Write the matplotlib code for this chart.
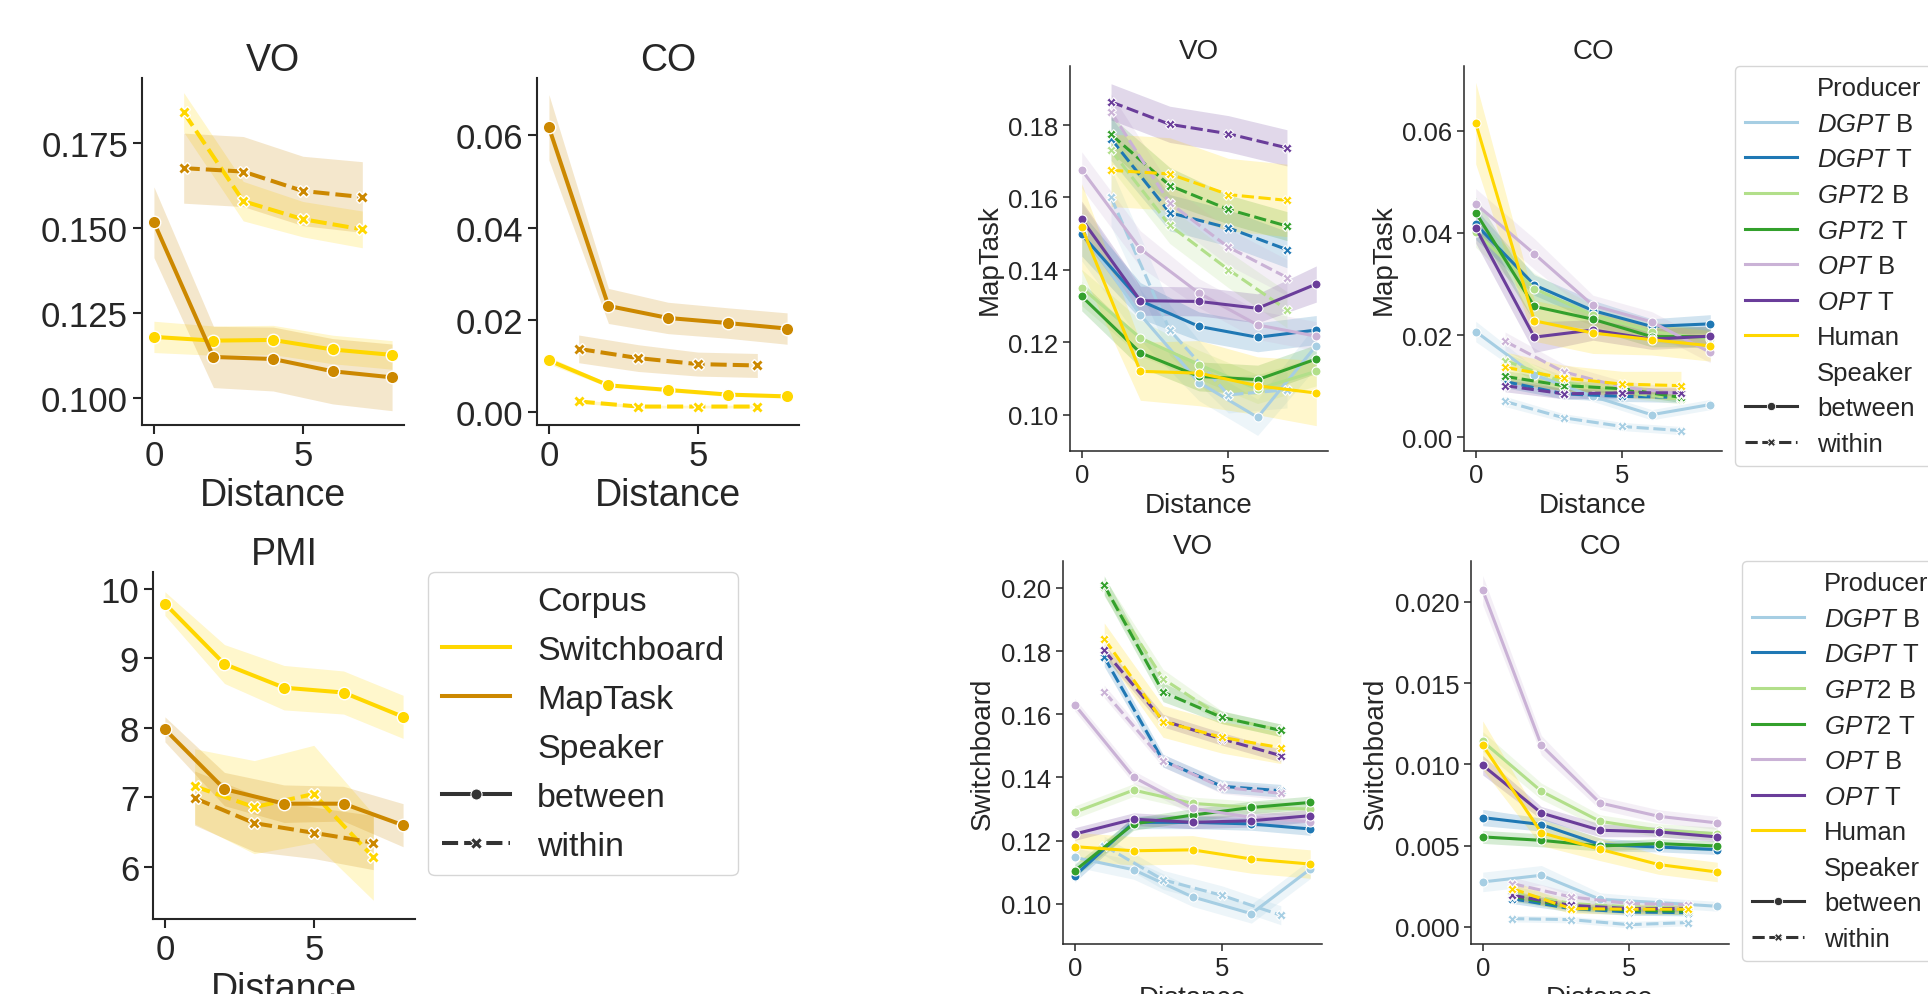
import matplotlib
matplotlib.use("Agg")
import matplotlib.pyplot as plt
from matplotlib.lines import Line2D

plt.rcParams['font.family'] = ['Liberation Sans', 'DejaVu Sans']
plt.rcParams['mathtext.fontset'] = 'custom'
plt.rcParams['mathtext.rm'] = 'Liberation Sans'
plt.rcParams['mathtext.it'] = 'Liberation Sans:italic'
plt.rcParams['text.color'] = '.15'
plt.rcParams['axes.labelcolor'] = '.15'
plt.rcParams['xtick.color'] = '.15'
plt.rcParams['ytick.color'] = '.15'

W, H = 1928, 995

# ---------------- data ----------------
between_x = [0, 2, 4, 6, 8]
within_x = [1, 3, 5, 7]

corpora = ["Switchboard", "MapTask"]
corpus_colors = {"Switchboard": "#ffd700", "MapTask": "#cc8800"}

# left: corpus comparison (mean, ci half width)
vo_between = {"Switchboard": [0.1179, 0.1168, 0.1170, 0.1142, 0.1126],
              "MapTask": [0.1516, 0.1120, 0.1114, 0.1078, 0.1060]}
vo_between_ci = {"Switchboard": [0.0046, 0.0043, 0.0043, 0.0042, 0.0042],
                 "MapTask": [0.0104, 0.0090, 0.0094, 0.0096, 0.0098]}
vo_within = {"Switchboard": [0.1839, 0.1578, 0.1525, 0.1495],
             "MapTask": [0.1675, 0.1665, 0.1608, 0.1590]}
vo_within_ci = {"Switchboard": [0.0058, 0.0058, 0.0052, 0.0054],
                "MapTask": [0.0103, 0.0103, 0.0102, 0.0104]}

co_between = {"Switchboard": [0.0112, 0.0058, 0.0048, 0.0038, 0.0034],
              "MapTask": [0.0617, 0.0230, 0.0204, 0.0193, 0.0181]}
co_between_ci = {"Switchboard": [0.0008, 0.0004, 0.0004, 0.0004, 0.0004],
                 "MapTask": [0.0071, 0.0038, 0.0034, 0.0033, 0.0034]}
co_within = {"Switchboard": [0.0023, 0.0012, 0.0012, 0.0012],
             "MapTask": [0.0137, 0.0117, 0.0104, 0.0101]}
co_within_ci = {"Switchboard": [0.0004, 0.0003, 0.0003, 0.0003],
                "MapTask": [0.0030, 0.0029, 0.0026, 0.0026]}

pmi_between = {"Switchboard": [9.79, 8.92, 8.58, 8.51, 8.16],
               "MapTask": [7.98, 7.12, 6.91, 6.91, 6.60]}
pmi_between_ci = {"Switchboard": [0.17, 0.28, 0.32, 0.31, 0.31],
                  "MapTask": [0.18, 0.24, 0.27, 0.25, 0.31]}
pmi_within = {"Switchboard": [7.16, 6.86, 7.05, 6.14],
              "MapTask": [6.99, 6.63, 6.49, 6.35]}
pmi_within_ci = {"Switchboard": [0.54, 0.67, 0.70, 0.62],
                 "MapTask": [0.39, 0.41, 0.37, 0.39]}

# right: producers
producers = ["DGPT B", "DGPT T", "GPT2 B", "GPT2 T", "OPT B", "OPT T", "Human"]
producer_labels = [r"$\it{DGPT}$ B", r"$\it{DGPT}$ T", r"$\it{GPT}$2 B", r"$\it{GPT}$2 T",
                   r"$\it{OPT}$ B", r"$\it{OPT}$ T", "Human"]
producer_colors = ["#a6cee3", "#1f78b4", "#b2df8a", "#33a02c", "#cab2d6", "#6a3d9a", "#ffd700"]

mt_vo_between = {"DGPT B": [0.1505, 0.1276, 0.1089, 0.0993, 0.1191],
                 "DGPT T": [0.1498, 0.1315, 0.1244, 0.1214, 0.1234],
                 "GPT2 B": [0.1351, 0.1212, 0.1138, 0.1071, 0.1120],
                 "GPT2 T": [0.1327, 0.1171, 0.1106, 0.1097, 0.1154],
                 "OPT B": [0.1676, 0.1458, 0.1336, 0.1248, 0.1217],
                 "OPT T": [0.1540, 0.1315, 0.1313, 0.1294, 0.1361],
                 "Human": [0.1518, 0.1120, 0.1115, 0.1080, 0.1060]}
mt_vo_between_ci = {"DGPT B": [0.008, 0.007, 0.005, 0.005, 0.006],
                    "DGPT T": [0.006, 0.005, 0.004, 0.004, 0.004],
                    "GPT2 B": [0.005, 0.005, 0.004, 0.004, 0.004],
                    "GPT2 T": [0.004, 0.004, 0.004, 0.004, 0.004],
                    "OPT B": [0.005, 0.005, 0.004, 0.004, 0.004],
                    "OPT T": [0.005, 0.004, 0.004, 0.004, 0.005],
                    "Human": [0.012, 0.008, 0.009, 0.008, 0.009]}
mt_vo_within = {"DGPT B": [0.1600, 0.1234, 0.1055, 0.1069],
                "DGPT T": [0.1762, 0.1558, 0.1516, 0.1456],
                "GPT2 B": [0.1730, 0.1523, 0.1401, 0.1290],
                "GPT2 T": [0.1774, 0.1633, 0.1567, 0.1521],
                "OPT B": [0.1836, 0.1585, 0.1463, 0.1379],
                "OPT T": [0.1864, 0.1802, 0.1776, 0.1737],
                "Human": [0.1675, 0.1665, 0.1608, 0.1592]}
mt_vo_within_ci = {"DGPT B": [0.008, 0.007, 0.005, 0.005],
                   "DGPT T": [0.006, 0.005, 0.005, 0.005],
                   "GPT2 B": [0.005, 0.005, 0.005, 0.005],
                   "GPT2 T": [0.005, 0.005, 0.004, 0.004],
                   "OPT B": [0.005, 0.005, 0.005, 0.005],
                   "OPT T": [0.005, 0.005, 0.005, 0.005],
                   "Human": [0.010, 0.010, 0.010, 0.010]}

mt_co_between = {"DGPT B": [0.0207, 0.0122, 0.0080, 0.0044, 0.0064],
                 "DGPT T": [0.0417, 0.0298, 0.0248, 0.0217, 0.0222],
                 "GPT2 B": [0.0402, 0.0291, 0.0239, 0.0207, 0.0192],
                 "GPT2 T": [0.0440, 0.0256, 0.0231, 0.0197, 0.0197],
                 "OPT B": [0.0457, 0.0359, 0.0258, 0.0226, 0.0166],
                 "OPT T": [0.0410, 0.0196, 0.0210, 0.0192, 0.0198],
                 "Human": [0.0615, 0.0228, 0.0204, 0.0191, 0.0179]}
mt_co_between_ci = {"DGPT B": [0.0020, 0.0015, 0.0010, 0.0010, 0.0010],
                    "DGPT T": [0.0030, 0.0020, 0.0020, 0.0015, 0.0018],
                    "GPT2 B": [0.0030, 0.0030, 0.0020, 0.0020, 0.0020],
                    "GPT2 T": [0.0030, 0.0030, 0.0020, 0.0020, 0.0020],
                    "OPT B": [0.0030, 0.0030, 0.0020, 0.0020, 0.0020],
                    "OPT T": [0.0030, 0.0030, 0.0020, 0.0020, 0.0020],
                    "Human": [0.0080, 0.0040, 0.0040, 0.0030, 0.0030]}
mt_co_within = {"DGPT B": [0.0070, 0.0038, 0.0021, 0.0013],
                "DGPT T": [0.0109, 0.0085, 0.0080, 0.0078],
                "GPT2 B": [0.0150, 0.0108, 0.0088, 0.0075],
                "GPT2 T": [0.0119, 0.0101, 0.0095, 0.0078],
                "OPT B": [0.0188, 0.0128, 0.0098, 0.0085],
                "OPT T": [0.0101, 0.0085, 0.0087, 0.0087],
                "Human": [0.0137, 0.0116, 0.0104, 0.0101]}
mt_co_within_ci = {"DGPT B": [0.0010, 0.0008, 0.0008, 0.0008],
                   "DGPT T": [0.0012, 0.0010, 0.0010, 0.0010],
                   "GPT2 B": [0.0015, 0.0012, 0.0010, 0.0010],
                   "GPT2 T": [0.0012, 0.0010, 0.0010, 0.0010],
                   "OPT B": [0.0018, 0.0015, 0.0012, 0.0012],
                   "OPT T": [0.0012, 0.0010, 0.0010, 0.0010],
                   "Human": [0.0030, 0.0025, 0.0025, 0.0028]}

sb_vo_between = {"DGPT B": [0.1147, 0.1108, 0.1022, 0.0969, 0.1110],
                 "DGPT T": [0.1089, 0.1258, 0.1258, 0.1253, 0.1237],
                 "GPT2 B": [0.1290, 0.1360, 0.1318, 0.1305, 0.1300],
                 "GPT2 T": [0.1105, 0.1253, 0.1281, 0.1305, 0.1321],
                 "OPT B": [0.1630, 0.1401, 0.1302, 0.1274, 0.1260],
                 "OPT T": [0.1221, 0.1268, 0.1258, 0.1263, 0.1279],
                 "Human": [0.1181, 0.1168, 0.1171, 0.1142, 0.1126]}
sb_vo_between_ci = {"DGPT B": [0.003, 0.003, 0.003, 0.003, 0.003],
                    "DGPT T": [0.002, 0.002, 0.002, 0.002, 0.002],
                    "GPT2 B": [0.002, 0.002, 0.002, 0.002, 0.002],
                    "GPT2 T": [0.002, 0.002, 0.002, 0.002, 0.002],
                    "OPT B": [0.002, 0.002, 0.002, 0.002, 0.002],
                    "OPT T": [0.002, 0.002, 0.002, 0.002, 0.002],
                    "Human": [0.0045, 0.0045, 0.0045, 0.0045, 0.0045]}
sb_vo_within = {"DGPT B": [0.1184, 0.1076, 0.1027, 0.0964],
                "DGPT T": [0.1781, 0.1453, 0.1372, 0.1358],
                "GPT2 B": [0.2003, 0.1712, 0.1591, 0.1549],
                "GPT2 T": [0.2008, 0.1670, 0.1590, 0.1549],
                "OPT B": [0.1672, 0.1453, 0.1369, 0.1350],
                "OPT T": [0.1802, 0.1580, 0.1522, 0.1469],
                "Human": [0.1839, 0.1577, 0.1527, 0.1494]}
sb_vo_within_ci = {"DGPT B": [0.003, 0.003, 0.003, 0.003],
                   "DGPT T": [0.003, 0.002, 0.002, 0.002],
                   "GPT2 B": [0.003, 0.003, 0.002, 0.002],
                   "GPT2 T": [0.003, 0.003, 0.002, 0.002],
                   "OPT B": [0.002, 0.002, 0.002, 0.002],
                   "OPT T": [0.002, 0.002, 0.002, 0.002],
                   "Human": [0.005, 0.005, 0.005, 0.005]}

sb_co_between = {"DGPT B": [0.00277, 0.00318, 0.00170, 0.00150, 0.00127],
                 "DGPT T": [0.00673, 0.00630, 0.00507, 0.00492, 0.00476],
                 "GPT2 B": [0.01142, 0.00835, 0.00650, 0.00595, 0.00574],
                 "GPT2 T": [0.00554, 0.00533, 0.00498, 0.00513, 0.00498],
                 "OPT B": [0.02072, 0.01118, 0.00763, 0.00681, 0.00640],
                 "OPT T": [0.00995, 0.00701, 0.00595, 0.00585, 0.00554],
                 "Human": [0.01118, 0.00580, 0.00478, 0.00384, 0.00338]}
sb_co_between_ci = {"DGPT B": [0.0006, 0.0006, 0.0004, 0.0003, 0.0003],
                    "DGPT T": [0.0005, 0.0004, 0.0004, 0.0003, 0.0003],
                    "GPT2 B": [0.0006, 0.0005, 0.0004, 0.0004, 0.0004],
                    "GPT2 T": [0.0004, 0.0004, 0.0003, 0.0003, 0.0003],
                    "OPT B": [0.0009, 0.0006, 0.0004, 0.0004, 0.0004],
                    "OPT T": [0.0006, 0.0004, 0.0004, 0.0003, 0.0003],
                    "Human": [0.0015, 0.0008, 0.0007, 0.0006, 0.0006]}
sb_co_within = {"DGPT B": [0.00051, 0.00045, 0.00014, 0.00027],
                "DGPT T": [0.00174, 0.00113, 0.00092, 0.00088],
                "GPT2 B": [0.00215, 0.00144, 0.00123, 0.00117],
                "GPT2 T": [0.00189, 0.00123, 0.00103, 0.00096],
                "OPT B": [0.00267, 0.00185, 0.00144, 0.00137],
                "OPT T": [0.00195, 0.00133, 0.00113, 0.00113],
                "Human": [0.00236, 0.00113, 0.00109, 0.00109]}
sb_co_within_ci = {"DGPT B": [0.0002, 0.0002, 0.0002, 0.0002],
                   "DGPT T": [0.0003, 0.0002, 0.0002, 0.0002],
                   "GPT2 B": [0.0004, 0.0003, 0.0002, 0.0002],
                   "GPT2 T": [0.0003, 0.0002, 0.0002, 0.0002],
                   "OPT B": [0.0004, 0.0003, 0.0002, 0.0002],
                   "OPT T": [0.0003, 0.0002, 0.0002, 0.0002],
                   "Human": [0.0005, 0.0003, 0.0003, 0.0003]}


# ---------------- helpers ----------------
fig = plt.figure(figsize=(W / 100, H / 100), dpi=100)


def add_ax(l, t, r, b):
    return fig.add_axes([l / W, 1 - b / H, (r - l) / W, (b - t) / H])


def series(ax, xs, ys, ci, color, dashed, lw, ms, mew):
    lo = [y - c for y, c in zip(ys, ci)]
    hi = [y + c for y, c in zip(ys, ci)]
    ax.fill_between(xs, lo, hi, color=color, alpha=0.2, linewidth=0)
    ln, = ax.plot(xs, ys, color=color, lw=lw, marker='X' if dashed else 'o',
                  ms=ms, mec='white', mew=mew)
    if dashed:
        ln.set_dashes((4, 1.5))


def style_ax(ax, title, ylim, yticks, fs_tick, fs_lab, spine_w, tick_len, ylabel=None):
    ax.set_xlim(-0.4, 8.4)
    ax.set_ylim(*ylim)
    ax.set_xticks([0, 5])
    ax.set_yticks(yticks)
    ax.spines['top'].set_visible(False)
    ax.spines['right'].set_visible(False)
    for s in ('left', 'bottom'):
        ax.spines[s].set_linewidth(spine_w)
        ax.spines[s].set_color('.15')
    ax.tick_params(labelsize=fs_tick, width=spine_w, length=tick_len)
    ax.set_title(title, fontsize=fs_lab)
    ax.set_xlabel("Distance", fontsize=fs_lab)
    if ylabel:
        ax.set_ylabel(ylabel, fontsize=fs_lab)


# ---------------- left figure ----------------
L_LW, L_MS, L_MEW = 2.9, 9, 1.0
left_panels = [
    ((142, 79, 404, 426), "VO", vo_between, vo_between_ci, vo_within, vo_within_ci,
     (0.092, 0.194), [0.100, 0.125, 0.150, 0.175], "%.3f"),
    ((537, 79, 799, 426), "CO", co_between, co_between_ci, co_within, co_within_ci,
     (-0.0028, 0.0724), [0.00, 0.02, 0.04, 0.06], "%.2f"),
    ((153, 573, 415, 920), "PMI", pmi_between, pmi_between_ci, pmi_within, pmi_within_ci,
     (5.25, 10.245), [6, 7, 8, 9, 10], "%d"),
]
for rect, title, bt, bci, wt, wci, ylim, yt, fmt in left_panels:
    ax = add_ax(*rect)
    for c in corpora:
        series(ax, between_x, bt[c], bci[c], corpus_colors[c], False, L_LW, L_MS, L_MEW)
        series(ax, within_x, wt[c], wci[c], corpus_colors[c], True, L_LW, L_MS, L_MEW)
    style_ax(ax, title, ylim, yt, 25, 27, 1.5, 6.5)
    ax.yaxis.set_major_formatter(matplotlib.ticker.FormatStrFormatter(fmt))
    if title == "PMI":
        blank = Line2D([], [], visible=False)
        hs = [blank,
              Line2D([], [], color=corpus_colors["Switchboard"], lw=L_LW),
              Line2D([], [], color=corpus_colors["MapTask"], lw=L_LW),
              blank,
              Line2D([], [], color='.2', lw=L_LW, marker='o', ms=8, mec='white', mew=0.8),
              Line2D([], [], color='.2', lw=L_LW, marker='X', ms=8, mec='white', mew=0.8,
                     dashes=(4, 1.5))]
        lb = ["Corpus", "Switchboard", "MapTask", "Speaker", "between", "within"]
        ax.legend(hs, lb, loc='upper left', bbox_to_anchor=(1.05, 1), borderaxespad=0,
                  fontsize=24.5, labelspacing=0.53, handlelength=2.0, edgecolor='0.8')

# ---------------- right figure ----------------
R_LW, R_MS, R_MEW = 2.2, 6.5, 0.8
right_panels = [
    ((1070, 67, 1328, 452), "VO", "MapTask", mt_vo_between, mt_vo_between_ci, mt_vo_within, mt_vo_within_ci,
     (0.090, 0.1963), [0.10, 0.12, 0.14, 0.16, 0.18], "%.2f", False),
    ((1464, 67, 1722, 452), "CO", "MapTask", mt_co_between, mt_co_between_ci, mt_co_within, mt_co_within_ci,
     (-0.0027, 0.0727), [0.00, 0.02, 0.04, 0.06], "%.2f", True),
    ((1063, 562, 1322, 945), "VO", "Switchboard", sb_vo_between, sb_vo_between_ci, sb_vo_within, sb_vo_within_ci,
     (0.0873, 0.2085), [0.10, 0.12, 0.14, 0.16, 0.18, 0.20], "%.2f", False),
    ((1471, 562, 1729, 945), "CO", "Switchboard", sb_co_between, sb_co_between_ci, sb_co_within, sb_co_within_ci,
     (-0.00105, 0.02252), [0.000, 0.005, 0.010, 0.015, 0.020], "%.3f", True),
]
for rect, title, ylab, bt, bci, wt, wci, ylim, yt, fmt, has_leg in right_panels:
    ax = add_ax(*rect)
    for p, col in zip(producers, producer_colors):
        series(ax, between_x, bt[p], bci[p], col, False, R_LW, R_MS, R_MEW)
        series(ax, within_x, wt[p], wci[p], col, True, R_LW, R_MS, R_MEW)
    style_ax(ax, title, ylim, yt, 18.5, 20, 1.1, 5, ylabel=ylab)
    ax.yaxis.set_major_formatter(matplotlib.ticker.FormatStrFormatter(fmt))
    if has_leg:
        blank = Line2D([], [], visible=False)
        hs = [blank] + [Line2D([], [], color=c, lw=R_LW) for c in producer_colors] + [
            blank,
            Line2D([], [], color='.2', lw=R_LW, marker='o', ms=6, mec='white', mew=0.6),
            Line2D([], [], color='.2', lw=R_LW, marker='X', ms=6, mec='white', mew=0.6,
                   dashes=(4, 1.5))]
        lb = ["Producer"] + producer_labels + ["Speaker", "between", "within"]
        ax.legend(hs, lb, loc='upper left', bbox_to_anchor=(1.05, 1), borderaxespad=0,
                  fontsize=18.5, labelspacing=0.45, handlelength=2.0, edgecolor='0.8')

fig.savefig("out.png", dpi=100)
